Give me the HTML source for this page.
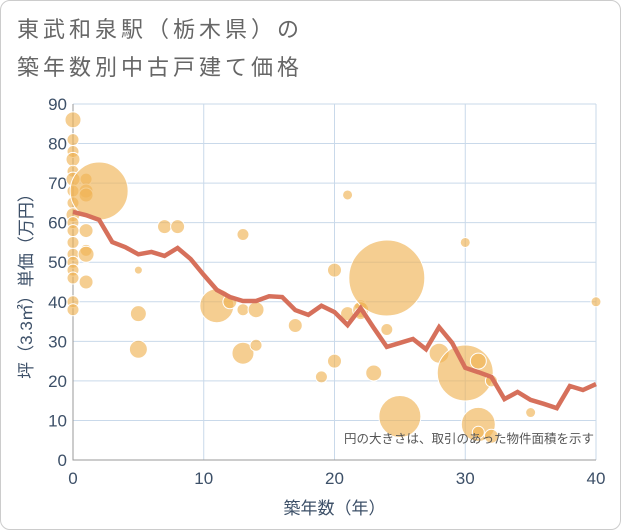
<!DOCTYPE html>
<html><head><meta charset="utf-8"><style>
body{margin:0;background:#fff;width:621px;height:530px;overflow:hidden;font-family:"Liberation Sans","Noto Sans CJK JP",sans-serif;}
#frame{position:absolute;left:0;top:0;width:619px;height:528px;border:1px solid #ccc;border-radius:10px;}
.title{position:absolute;left:17px;font-size:22px;color:#666;letter-spacing:4px;line-height:26px;}
</style></head><body>
<div id="frame"></div>
<div class="title" style="top:17px">東武和泉駅（栃木県）の</div>
<div class="title" style="top:55px">築年数別中古戸建て価格</div>
<svg id="chart" width="621" height="530" style="position:absolute;left:0;top:0"></svg>
<script>
const xTicks=[0,10,20,30,40];
const yTicks=[0,10,20,30,40,50,60,70,80,90];
const lineYears=[0,1,2,3,4,5,6,7,8,9,10,11,12,13,14,15,16,17,18,19,20,21,22,23,24,25,26,27,28,29,30,31,32,33,34,35,36,37,38,39,40];
const linePrices=[62.7,61.9,60.7,55.1,53.8,52,52.6,51.6,53.6,50.8,46.8,43,41.2,40.2,40.2,41.4,41.2,37.9,36.7,39,37.4,34.1,38.4,33.4,28.6,29.6,30.6,28,33.6,29.6,23.3,22.2,21,15.4,17.2,15.2,14.2,13.1,18.7,17.7,19.2];
const bubbleAge=[0,0,0,0,0,0,0,0,0,0,0,0,0,0,0,0,0,0,1,1,1,1,1,1,1,2,5,5,5,7,8,11,12,13,13,13,14,14,17,19,20,20,21,21,22,22,22,24,24,23,25,28,30,30,31,31,31,32,32,35,40];
const bubblePrice=[86,81,78,76,73,71,68,65,62,60,58,55,52,50,48,46,40,38,71,68,67,58,53,52,45,68,48,37,28,59,59,39,40,57,38,27,38,29,34,21,48,25,67,37,39,38,37,46,33,22,11,27,55,22,25,9,7,6,20,12,40];
const bubbleSize=[8,6,6,7,6,7,6,6,7,6,6,6,6,6,6,6,6,6,6,7,7,7,6,8,7,29,4,8,9,7,7,17,7,6,6,11,8,6,7,6,7,7,5,7,6,8,6,38,6,8,21,10,5,28,8,17,6,7,6,5,5];
const svg=document.getElementById('chart');const NS='http://www.w3.org/2000/svg';
const X0=73,X1=596,Y0=460,Y1=104;
const sx=v=>X0+(X1-X0)*v/40, sy=v=>Y0-(Y0-Y1)*v/90;
function mk(t,a,p){const e=document.createElementNS(NS,t);for(const k in a)e.setAttribute(k,a[k]);(p||svg).appendChild(e);return e;}
yTicks.forEach(v=>{const l=mk('line',{x1:X0,x2:X1,y1:sy(v),y2:sy(v),stroke:'#c9d9ea','stroke-width':1});


const t=mk('text',{x:X0-6,y:sy(v)+6,'text-anchor':'end','font-size':17,fill:'#3d5068'});t.textContent=v;

});
xTicks.forEach(v=>{const l=mk('line',{x1:sx(v),x2:sx(v),y1:Y1,y2:Y0,stroke:'#c9d9ea','stroke-width':1});


const t=mk('text',{x:sx(v),y:Y0+24,'text-anchor':'middle','font-size':17,fill:'#3d5068'});t.textContent=v;

});
const ax=mk('path',{d:`M${X0},${Y1}V${Y0}H${X1}`,stroke:'#999',fill:'none','stroke-width':1});


bubbleAge.forEach((a,i)=>{const c=mk('circle',{cx:sx(a),cy:sy(bubblePrice[i]),r:bubbleSize[i],fill:'#f0b456','fill-opacity':0.65,stroke:'#fff','stroke-width':1});

});
const pl=mk('polyline',{points:lineYears.map((y,i)=>sx(y)+','+sy(linePrices[i])).join(' '),fill:'none',stroke:'#d6705b','stroke-width':4.5,'stroke-linejoin':'miter'});


const note=mk('text',{x:594,y:443,'text-anchor':'end','font-size':12.5,fill:'#555'});note.textContent='円の大きさは、取引のあった物件面積を示す';


const xt=mk('text',{x:(X0+X1)/2,y:514,'text-anchor':'middle','font-size':17,fill:'#3d5068'});xt.textContent='築年数（年）';


const yt=mk('text',{x:0,y:0,'text-anchor':'middle','font-size':17,fill:'#3d5068',transform:`translate(32,${(Y0+Y1)/2}) rotate(-90)`});yt.textContent='坪（3.3㎡）単価（万円）';


</script>
</body></html>
